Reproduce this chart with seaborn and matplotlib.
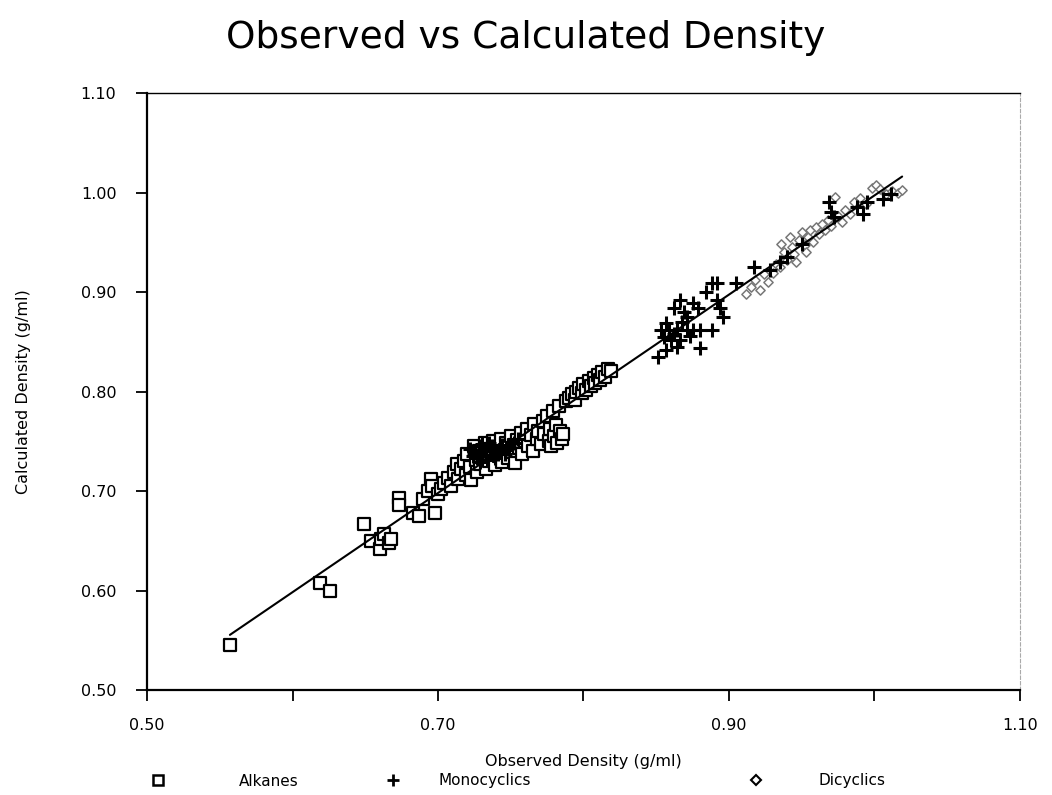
import numpy as np
import pandas as pd
import matplotlib
matplotlib.use("Agg")
import matplotlib.pyplot as plt
from matplotlib.lines import Line2D
import seaborn as sns

# ---------------- data (observed, calculated density g/ml) ----------------
alk_obs = [0.557, 0.619, 0.626, 0.649, 0.654, 0.660, 0.661, 0.663, 0.666, 0.668,
           0.673, 0.673, 0.683, 0.687, 0.698, 0.690, 0.693, 0.695, 0.696, 0.700,
           0.702, 0.704, 0.707, 0.709, 0.711, 0.713, 0.714, 0.716, 0.718, 0.719,
           0.720, 0.722, 0.723, 0.725, 0.726, 0.727, 0.728, 0.729, 0.731, 0.732,
           0.733, 0.734, 0.735, 0.737, 0.738, 0.739, 0.741, 0.742, 0.743, 0.744,
           0.746, 0.747, 0.748, 0.750, 0.751, 0.752, 0.753, 0.754, 0.756, 0.757,
           0.758, 0.760, 0.761, 0.762, 0.764, 0.765, 0.766, 0.768, 0.769, 0.771,
           0.772, 0.773, 0.775, 0.776, 0.777, 0.778, 0.779, 0.780, 0.781, 0.782,
           0.783, 0.784, 0.785, 0.786, 0.788, 0.790, 0.792, 0.794, 0.795, 0.797,
           0.799, 0.800, 0.802, 0.804, 0.805, 0.807, 0.808, 0.810, 0.811, 0.813,
           0.815, 0.817, 0.819]
alk_calc = [0.545, 0.608, 0.599, 0.667, 0.650, 0.642, 0.652, 0.657, 0.648, 0.652,
            0.693, 0.686, 0.678, 0.675, 0.678, 0.692, 0.700, 0.712, 0.705, 0.697,
            0.702, 0.708, 0.713, 0.705, 0.719, 0.727, 0.712, 0.722, 0.730, 0.716,
            0.737, 0.724, 0.711, 0.745, 0.731, 0.719, 0.740, 0.727, 0.735, 0.748,
            0.722, 0.742, 0.730, 0.738, 0.750, 0.726, 0.744, 0.735, 0.752, 0.729,
            0.741, 0.748, 0.733, 0.755, 0.739, 0.746, 0.728, 0.751, 0.743, 0.758,
            0.737, 0.750, 0.762, 0.745, 0.756, 0.740, 0.767, 0.752, 0.760, 0.747,
            0.770, 0.757, 0.775, 0.750, 0.762, 0.745, 0.780, 0.755, 0.766, 0.748,
            0.785, 0.760, 0.752, 0.757, 0.790, 0.793, 0.797, 0.791, 0.800, 0.804,
            0.798, 0.808, 0.802, 0.811, 0.806, 0.814, 0.809, 0.817, 0.812, 0.820,
            0.815, 0.823, 0.821]

mono_obs = [0.722, 0.725, 0.728, 0.731, 0.733, 0.736, 0.738, 0.741, 0.744, 0.747,
            0.752, 0.727, 0.735, 0.724, 0.730, 0.734, 0.739, 0.743, 0.746, 0.749,
            0.729, 0.737, 0.755,
            0.851, 0.853, 0.857, 0.857, 0.859, 0.862, 0.864, 0.864, 0.866, 0.860,
            0.866, 0.871, 0.871, 0.875, 0.875, 0.879, 0.880, 0.880, 0.884, 0.888,
            0.892, 0.888, 0.892, 0.894, 0.896, 0.905, 0.868, 0.873, 0.862, 0.855,
            0.869,
            0.917, 0.928, 0.935, 0.940, 0.950, 0.969, 0.970, 0.972, 0.988, 0.992,
            0.995, 1.006, 1.011]
mono_calc = [0.742, 0.738, 0.745, 0.740, 0.736, 0.744, 0.740, 0.737, 0.746, 0.742,
             0.748, 0.733, 0.748, 0.735, 0.747, 0.731, 0.733, 0.740, 0.737, 0.745,
             0.729, 0.745, 0.752,
             0.835, 0.862, 0.869, 0.842, 0.862, 0.884, 0.862, 0.845, 0.892, 0.852,
             0.852, 0.862, 0.875, 0.889, 0.862, 0.884, 0.862, 0.844, 0.900, 0.909,
             0.909, 0.862, 0.892, 0.884, 0.875, 0.909, 0.870, 0.856, 0.858, 0.855,
             0.880,
             0.925, 0.922, 0.930, 0.935, 0.948, 0.990, 0.980, 0.975, 0.985, 0.978,
             0.990, 0.993, 0.998]

dic_obs = [0.912, 0.915, 0.918, 0.921, 0.924, 0.927, 0.930, 0.932, 0.935, 0.938,
           0.940, 0.943, 0.945, 0.948, 0.950, 0.952, 0.954, 0.956, 0.958, 0.960,
           0.962, 0.964, 0.966, 0.968, 0.970, 0.973, 0.975, 0.978, 0.980, 0.983,
           0.986, 0.990, 0.994, 0.998, 1.001, 1.004, 1.008, 1.012, 1.016, 1.019,
           0.946, 0.953, 0.936, 0.942]
dic_calc = [0.898, 0.905, 0.912, 0.902, 0.918, 0.910, 0.919, 0.928, 0.925, 0.940,
            0.932, 0.945, 0.938, 0.952, 0.960, 0.947, 0.955, 0.962, 0.950, 0.965,
            0.958, 0.968, 0.962, 0.972, 0.966, 0.995, 0.976, 0.970, 0.982, 0.978,
            0.990, 0.994, 0.988, 1.005, 1.008, 1.004, 0.998, 1.002, 1.000, 1.003,
            0.930, 0.940, 0.948, 0.955]

y_ticks = [0.50, 0.60, 0.70, 0.80, 0.90, 1.00, 1.10]
y_tick_labels = ["0.50", "0.60", "0.70", "0.80", "0.90", "1.00", "1.10"]
x_ticks = [0.50, 0.60, 0.70, 0.80, 0.90, 1.00, 1.10]
x_tick_labels = ["0.50", "", "0.70", "", "0.90", "", "1.10"]

title = "Observed vs Calculated Density"
xlabel = "Observed Density (g/ml)"
ylabel = "Calculated Density (g/ml)"
series_names = ["Alkanes", "Monocyclics", "Dicyclics"]

# ---------------- figure ----------------
sns.set_theme(style="white")
plt.rcParams["font.family"] = ["DejaVu Sans"]
plt.rcParams["text.color"] = "black"
plt.rcParams["axes.labelcolor"] = "black"

fig = plt.figure(figsize=(10.52, 7.95), dpi=100)
ax = fig.add_axes([147 / 1052, 1 - 690 / 795, (1020 - 147) / 1052, (690 - 93) / 795])

alk = pd.DataFrame({"obs": alk_obs, "calc": alk_calc})
mono = pd.DataFrame({"obs": mono_obs, "calc": mono_calc})
dic = pd.DataFrame({"obs": dic_obs, "calc": dic_calc})

sns.scatterplot(data=alk, x="obs", y="calc", marker="s", s=70,
                facecolor="white", edgecolor="black", linewidth=1.6, ax=ax, zorder=3)
ax.scatter(mono["obs"], mono["calc"], marker="+", s=90, color="black",
           linewidths=2.2, zorder=4)
sns.scatterplot(data=dic, x="obs", y="calc", marker="D", s=22,
                facecolor="white", edgecolor="#777777", linewidth=1.1, ax=ax, zorder=3)

all_df = pd.concat([alk, mono, dic], ignore_index=True)
sns.regplot(data=all_df, x="obs", y="calc", scatter=False, ci=None, truncate=True,
            color="black", line_kws={"linewidth": 1.5, "zorder": 5}, ax=ax)

ax.set_xlim(0.50, 1.10)
ax.set_ylim(0.50, 1.10)
ax.set_xticks(x_ticks)
ax.set_xticklabels(x_tick_labels, fontsize=11.5)
ax.set_yticks(y_ticks)
ax.set_yticklabels(y_tick_labels, fontsize=11.5)
ax.tick_params(axis="both", which="major", direction="out", length=8, width=1.3,
               color="black", labelcolor="black", bottom=True, left=True,
               top=False, right=False)
ax.tick_params(axis="y", pad=14)
ax.tick_params(axis="x", pad=12)

for side in ["left", "bottom"]:
    ax.spines[side].set_color("black")
    ax.spines[side].set_linewidth(1.6)
ax.spines["top"].set_color("black")
ax.spines["top"].set_linewidth(1.0)
ax.spines["right"].set_color("#aaaaaa")
ax.spines["right"].set_linewidth(0.8)
ax.spines["right"].set_linestyle((0, (3, 2)))

ax.set_xlabel(xlabel, fontsize=11.5, labelpad=15, color="black")
ax.set_ylabel(ylabel, fontsize=11.5, labelpad=36, color="black")
fig.text(0.5, 1 - 38 / 795, title, ha="center", va="center", fontsize=27,
         color="black")

# legend entries placed along the bottom
handles = [
    Line2D([], [], marker="s", linestyle="none", markersize=7, markerfacecolor="white",
           markeredgecolor="black", markeredgewidth=1.8),
    Line2D([], [], marker="+", linestyle="none", markersize=8, color="black",
           markeredgewidth=2.0),
    Line2D([], [], marker="D", linestyle="none", markersize=5, markerfacecolor="white",
           markeredgecolor="black", markeredgewidth=1.5),
]
leg_x = [150 / 1052, 385 / 1052, 748 / 1052]
leg_pad = [4.8, 2.5, 3.6]
for h, name, lx, pad in zip(handles, series_names, leg_x, leg_pad):
    fig.legend(handles=[h], labels=[name], loc="center left",
               bbox_to_anchor=(lx, 1 - 781 / 795), frameon=False, fontsize=11,
               handlelength=1.0, handletextpad=pad, borderpad=0, borderaxespad=0,
               labelcolor="black")

fig.savefig("out.png", dpi=100, facecolor="white")
